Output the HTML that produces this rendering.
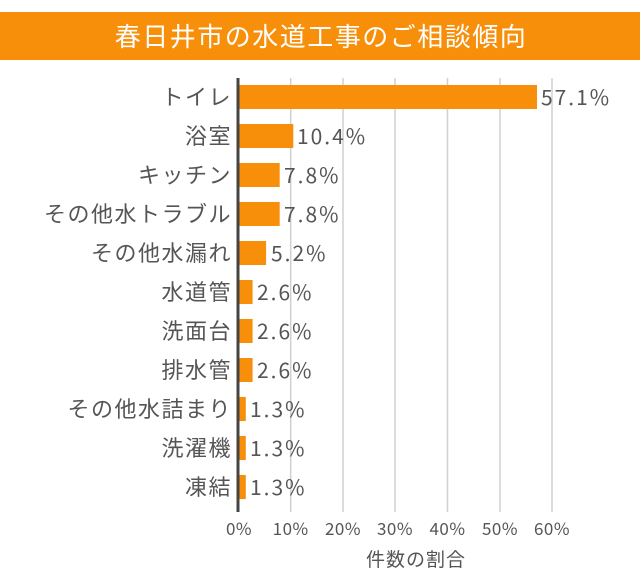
<!DOCTYPE html>
<html><head><meta charset="utf-8"><style>
body{margin:0;background:#fff;width:640px;height:580px;overflow:hidden}
svg text{font-family:"Noto Sans CJK JP","Liberation Sans",sans-serif}
</style></head><body>
<svg width="640" height="580" xmlns="http://www.w3.org/2000/svg">
<rect x="0" y="12" width="640" height="48" fill="#f78f0a"/>
<text x="321" y="46" font-size="26" fill="#fff" text-anchor="middle" letter-spacing="1.5">春日井市の水道工事のご相談傾向</text>
<g stroke="#d0d0d0" stroke-width="1.5">
<line x1="290.7" y1="78" x2="290.7" y2="512"/><line x1="343" y1="78" x2="343" y2="512"/>
<line x1="395" y1="78" x2="395" y2="512"/><line x1="447.5" y1="78" x2="447.5" y2="512"/>
<line x1="500" y1="78" x2="500" y2="512"/><line x1="552" y1="78" x2="552" y2="512"/>
</g>
<g fill="#f78f0a">
<rect x="239" y="85" width="298" height="24"/>
<rect x="239" y="124" width="54.3" height="24"/>
<rect x="239" y="163" width="40.7" height="24"/>
<rect x="239" y="202" width="40.7" height="24"/>
<rect x="239" y="241" width="27.1" height="24"/>
<rect x="239" y="280" width="13.6" height="24"/>
<rect x="239" y="319" width="13.6" height="24"/>
<rect x="239" y="358" width="13.6" height="24"/>
<rect x="239" y="397" width="6.8" height="24"/>
<rect x="239" y="436" width="6.8" height="24"/>
<rect x="239" y="475" width="6.8" height="24"/>
</g>
<line x1="238" y1="78" x2="238" y2="512" stroke="#444" stroke-width="3"/>
<g font-size="22" fill="#555" text-anchor="end" letter-spacing="1.5">
<text x="232" y="105">トイレ</text>
<text x="232" y="144">浴室</text>
<text x="232" y="183">キッチン</text>
<text x="232" y="222">その他水トラブル</text>
<text x="232" y="261">その他水漏れ</text>
<text x="232" y="300">水道管</text>
<text x="232" y="339">洗面台</text>
<text x="232" y="378">排水管</text>
<text x="232" y="417">その他水詰まり</text>
<text x="232" y="456">洗濯機</text>
<text x="232" y="495">凍結</text>
</g>
<g font-size="21" fill="#555" letter-spacing="2">
<text x="541" y="105">57.1%</text>
<text x="297" y="144">10.4%</text>
<text x="284" y="183">7.8%</text>
<text x="284" y="222">7.8%</text>
<text x="271" y="261">5.2%</text>
<text x="257" y="300">2.6%</text>
<text x="257" y="339">2.6%</text>
<text x="257" y="378">2.6%</text>
<text x="250" y="417">1.3%</text>
<text x="250" y="456">1.3%</text>
<text x="250" y="495">1.3%</text>
</g>
<g font-size="17" fill="#555" text-anchor="middle" letter-spacing="0.5">
<text x="239" y="535">0%</text><text x="290.7" y="535">10%</text><text x="343" y="535">20%</text>
<text x="395" y="535">30%</text><text x="447.5" y="535">40%</text><text x="500" y="535">50%</text>
<text x="552" y="535">60%</text>
</g>
<text x="416" y="566" font-size="19" fill="#555" text-anchor="middle" letter-spacing="1">件数の割合</text>
</svg>
</body></html>
